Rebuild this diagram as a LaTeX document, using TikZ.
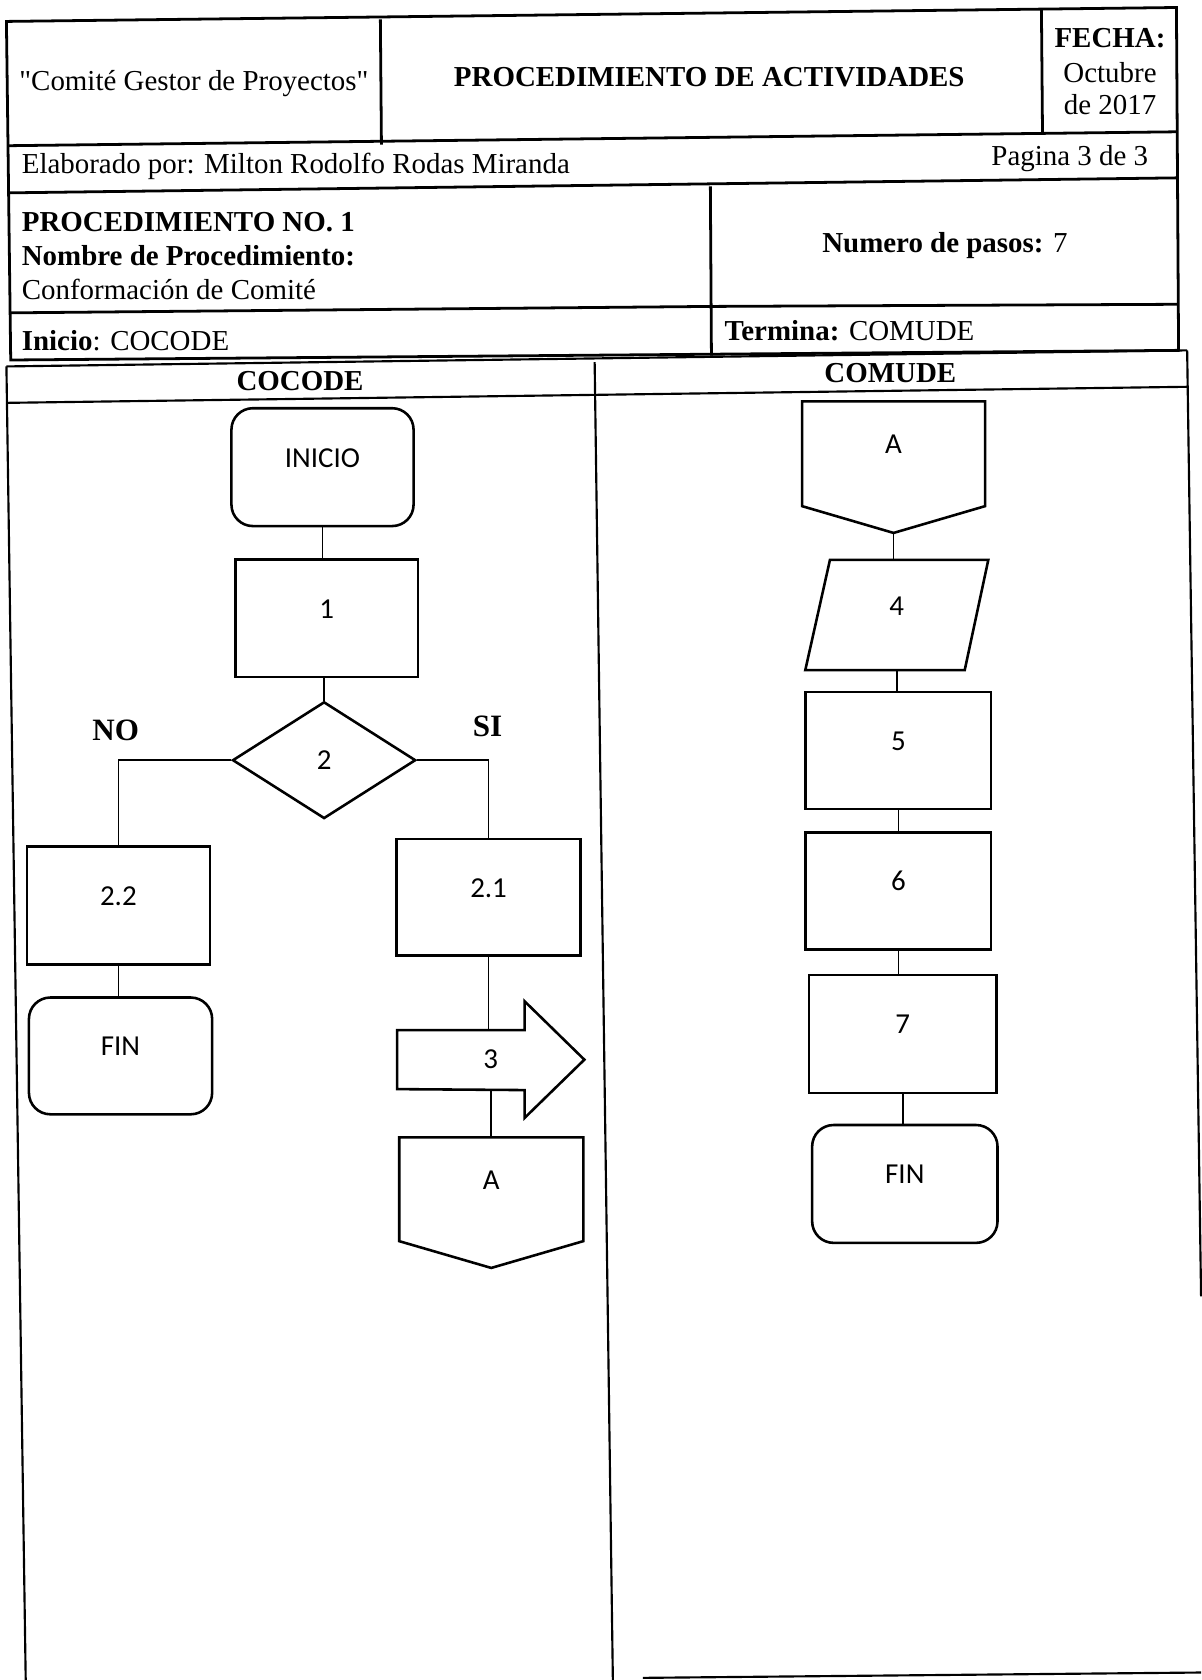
\documentclass[tikz,border=0pt]{standalone}
\usepackage{fontspec}
\setmainfont{Liberation Serif}[Ligatures=TeXOff]
\newfontfamily\calib{Carlito}
\usetikzlibrary{shapes.geometric,calc}
\begin{document}
\begin{tikzpicture}[x=0.5pt,y=-0.5pt,
  hdr/.style={line width=1.3pt},
  tbl/.style={line width=1.0pt},
  txt/.style={inner sep=0pt, font=\fontsize{13.5}{16}\selectfont},
  txtb/.style={inner sep=0pt, font=\bfseries\fontsize{13.5}{16}\selectfont},
  fc/.style={draw, line width=1.2pt, inner sep=0pt, font=\calib\fontsize{13.5}{16}\selectfont, minimum width=85pt, minimum height=55pt},
  fcshape/.style={inner sep=0pt, font=\calib\fontsize{13.5}{16}\selectfont},
  term/.style={fc, rounded corners=10pt},
  outl/.style={line width=1.2pt, line join=miter},
  link/.style={line width=0.8pt}]
\useasboundingbox (0,0) rectangle (1121,1568);
\fill[white] (0,0) rectangle (1121,1568);

% ---------- header grid ----------
\draw[hdr] (6,20) -- (1098,7) -- (1100,327) -- (10,336) -- cycle;
\draw[hdr] (7,136) -- (1099,123);
\draw[hdr] (8,180) -- (1099,166);
\draw[hdr] (9,292) -- (663,286) -- (1100,284);
\draw[hdr] (355,18) -- (356,135);
\draw[hdr] (972,9) -- (973,124);
\draw[hdr] (663,174) -- (664,332);

% ---------- header texts ----------
\node[txt] (t1) at (181,78) {"Comité Gestor de Proyectos"};
\node[txtb] (t2) at (662,72) {PROCEDIMIENTO DE ACTIVIDADES};
\node[txtb] (t3) at (1036,36) {FECHA:};
\node[txt] (t4) at (1036,68) {Octubre};
\node[txt] (t5) at (1036,98) {de 2017};
\node[txt,anchor=west] (t6) at (20,155) {Elaborado por: Milton Rodolfo Rodas Miranda};
\node[txt,anchor=east] (t7) at (1072,148) {Pagina 3 de 3};
\node[txtb,anchor=west] (t8) at (20,207) {PROCEDIMIENTO NO. 1};
\node[txtb,anchor=west] (t9) at (20,239) {Nombre de Procedimiento:};
\node[txt,anchor=west] (t10) at (20,270) {Conformación de Comité};
\node[txt] (t11) at (882,229) {\bfseries Numero de pasos: \mdseries 7};
\node[txt,anchor=west] (t12) at (20,318) {\bfseries Inicio\mdseries: COCODE};
\node[txt,anchor=west] (t13) at (676,309) {\bfseries Termina: \mdseries COMUDE};

% ---------- swimlane table ----------
\draw[tbl] (6,342) -- (1108,327);
\draw[tbl] (6,376) -- (1109,361);
\draw[tbl] (6,342) -- (24,1568);
\draw[tbl] (555,338) -- (572,1568);
\draw[tbl] (1108,327) -- (1121,1210);
\draw[tbl] (600,1566) -- (1121,1561);
\node[txtb] (l1) at (280,356) {COCODE};
\node[txtb] (l2) at (831,348) {COMUDE};

% ---------- COCODE lane ----------
\node[term] (inicio) at (301,436) {\smash{INICIO}};
\node[fc] (n1) at (305,577) {\smash{1}};
\node[fc, diamond, minimum width=85.5pt, minimum height=54.5pt] (d2) at (302.5,709.5) {2};
\node[fc, minimum width=85.5pt] (n22) at (110.5,845) {\smash{2.2}};
\node[term, minimum width=85.5pt, minimum height=54.5pt] (fin1) at (112.5,985.5) {\smash{FIN}};
\node[fc, minimum width=86pt, minimum height=54.5pt] (n21) at (456,837.5) {\smash{2.1}};
\node[fcshape, minimum width=87pt, minimum height=54pt] (a3) at (458,989) {3};
\draw[outl] ($(a3.west)+(0,-27.5)$) -- ++(119,0) -- ++(0,-27) -- (a3.east)
   -- ($(a3.south west)+(119,0)$) -- ++(0,-26) -- ($(a3.west)+(0,27.5)$) -- cycle;
\coordinate (a3top) at ($(a3.center)+(0,-27.5)$);
\coordinate (a3bot) at ($(a3.center)+(0,27.5)$);
\node[fcshape, minimum width=85.5pt, minimum height=48pt] (ca) at (458.5,1110) {\smash{A}};
\draw[outl] (ca.north west) -- (ca.north east) -- (ca.south east) -- ($(ca.south)+(0,25)$) -- (ca.south west) -- cycle;

\node[txtb, font=\bfseries\fontsize{14.5}{16}\selectfont] (no) at (108,682) {NO};
\node[txtb, font=\bfseries\fontsize{14.5}{16}\selectfont] (si) at (455,678) {SI};

\draw[link] (inicio.south) -- (inicio.south |- n1.north);
\draw[link] (d2.north |- n1.south) -- (d2.north);
\draw[link] (d2.west) -| (n22.north);
\draw[link] (d2.east) -| (n21.north);
\draw[link] (n22.south) -- (n22.south |- fin1.north);
\draw[link] (n21.south) -- (n21.south |- a3top);
\draw[link] (a3bot) -- (a3bot |- ca.north);

% ---------- COMUDE lane ----------
\node[fcshape, minimum width=85pt, minimum height=48.5pt] (ca2) at (834,423.5) {\smash{A}};
\draw[outl] (ca2.north west) -- (ca2.north east) -- (ca2.south east) -- ($(ca2.south)+(0,25)$) -- (ca2.south west) -- cycle;
\coordinate (ca2tip) at ($(ca2.south)+(0,25)$);
\node[fcshape, minimum width=85pt, minimum height=51pt] (p4) at (837,574) {\smash{4}};
\draw[outl] ($(p4.north west)+(23,0)$) -- (p4.north east) -- ($(p4.south east)+(-22,0)$) -- (p4.south west) -- cycle;
\node[fc, minimum width=86.5pt, minimum height=54.5pt] (n5) at (838.5,700.5) {\smash{5}};
\node[fc, minimum width=86.5pt, minimum height=54.5pt] (n6) at (838.5,831.5) {\smash{6}};
\node[fc, minimum width=87.5pt, minimum height=55pt] (n7) at (842.5,965) {\smash{7}};
\node[term, minimum width=86.5pt, minimum height=55pt] (fin2) at (844.5,1105) {\smash{FIN}};

\draw[link] (ca2tip) -- (ca2tip |- p4.north);
\draw[link] (p4.south) -- (p4.south |- n5.north);
\draw[link] (n5.south) -- (n5.south |- n6.north);
\draw[link] (n6.south) -- (n6.south |- n7.north);
\draw[link] (n7.south) -- (n7.south |- fin2.north);
\end{tikzpicture}
\end{document}
